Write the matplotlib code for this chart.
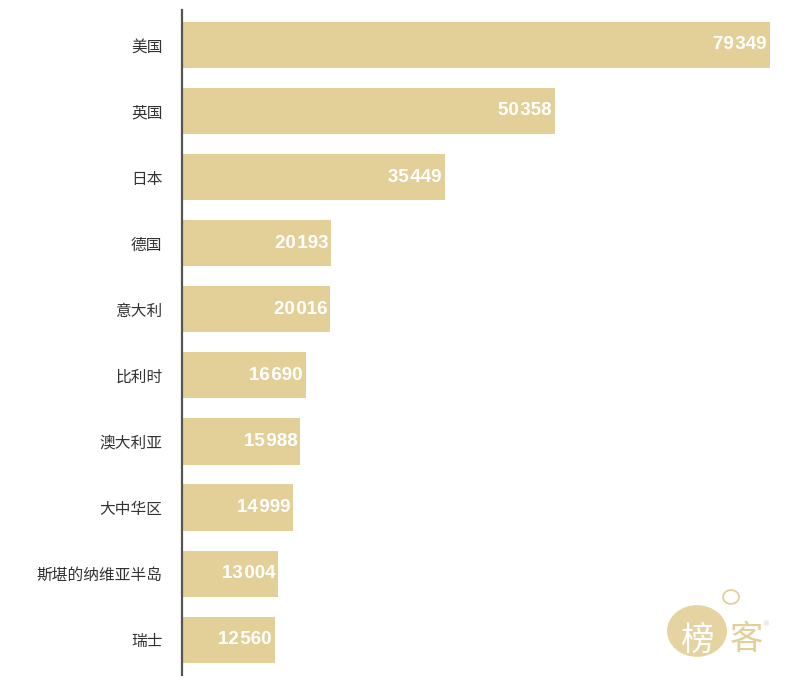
import matplotlib.pyplot as plt
from matplotlib.patches import Circle

plt.rcParams['font.family'] = ['Noto Sans CJK SC', 'DejaVu Sans']

regions = ["美国", "英国", "日本", "德国", "意大利", "比利时", "澳大利亚", "大中华区", "斯堪的纳维亚半岛", "瑞士"]
counts = [79349, 50358, 35449, 20193, 20016, 16690, 15988, 14999, 13004, 12560]

bar_color = "#E3CF98"

fig = plt.figure(figsize=(8.12, 7.0), dpi=100)
ax = fig.add_axes([0.224, 0.036, 0.724, 0.950])

y = list(range(len(regions)))
ax.barh(y, counts, height=0.7, color=bar_color, left=0)

for yi, v in zip(y, counts):
    label = f"{v:,}".replace(",", "\u200a")
    ax.text(v - 400, yi, label, ha="right", va="center", color="white",
            fontsize=13.5, fontweight="bold", family=["Liberation Sans", "DejaVu Sans"])

ax.set_xlim(0, max(counts))
ax.set_ylim(len(regions) - 0.47, -0.53)
ax.set_yticks(y)
ax.set_yticklabels(regions, fontsize=11.3, color="#333333")
ax.tick_params(axis="y", length=0, pad=14)
ax.set_xticks([])

for s in ["top", "right", "bottom"]:
    ax.spines[s].set_visible(False)
ax.spines["left"].set_color("#555555")
ax.spines["left"].set_linewidth(1.6)

# watermark logo
fig.patches.append(Circle((697 / 812, 1 - 631 / 700), 30 / 812, transform=fig.transFigure,
                          facecolor=bar_color, edgecolor="none", alpha=0.9))
fig.patches.append(Circle((731 / 812, 1 - 597 / 700), 8 / 812, transform=fig.transFigure,
                          facecolor="none", edgecolor=bar_color, linewidth=1.3))
fig.text(697 / 812, 1 - 640 / 700, "榜", color="white", fontsize=24, ha="center", va="center")
fig.text(747 / 812, 1 - 640 / 700, "客", color=bar_color, fontsize=24, ha="center", va="center")
fig.text(767 / 812, 1 - 624 / 700, "®", color=bar_color, fontsize=5, ha="center", va="center",
         family=["DejaVu Sans"])

fig.savefig("out.png", dpi=100, facecolor="white")
